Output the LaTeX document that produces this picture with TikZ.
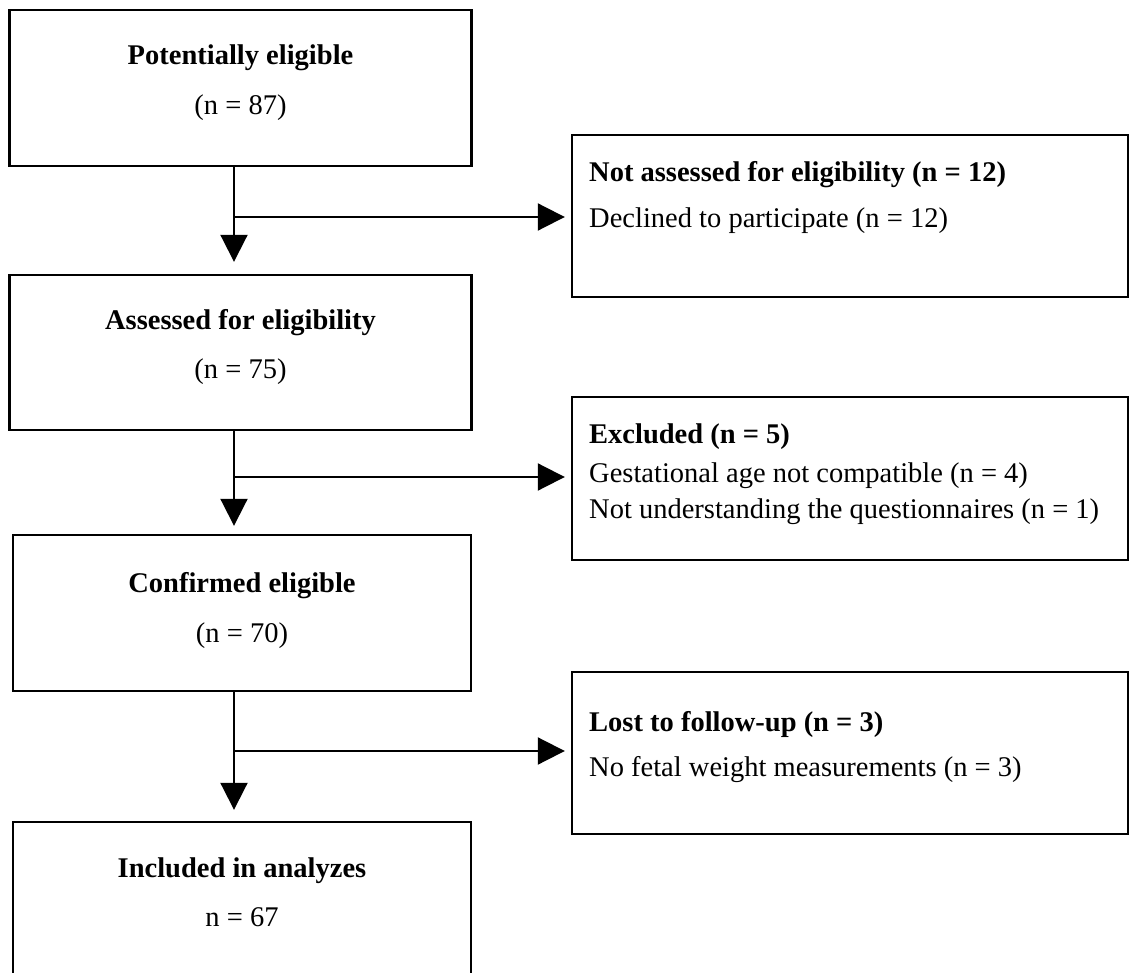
\documentclass[tikz,border=0pt]{standalone}
\usepackage{fontspec}
\setmainfont{Liberation Serif}
\usetikzlibrary{arrows.meta}
\tikzset{
  box/.style={draw=black, line width=2.4pt, fill=none, inner sep=0pt},
  txt/.style={inner sep=0pt, font=\fontsize{28.5}{34}\selectfont, text=black},
  btxt/.style={txt, font=\fontsize{28.5}{34}\selectfont\bfseries},
  arr/.style={draw=black, line width=2pt, -{Triangle[length=27pt,width=27pt]}},
  plain/.style={draw=black, line width=2pt}
}
\begin{document}
\begin{tikzpicture}[x=1pt,y=-1pt]
\useasboundingbox (0,0) rectangle (1129,973);
\fill[white] (0,0) rectangle (1129,973);
\clip (0,0) rectangle (1129,973);

% left column boxes
\node[box, minimum width=462pt, minimum height=156pt] (b1) at (240.5,88) {};
\node[box, minimum width=462pt, minimum height=155pt] (b2) at (240.5,352.5) {};
\node[box, minimum width=458pt, minimum height=156pt] (b3) at (242,613) {};
\node[box, minimum width=458pt, minimum height=156pt] (b4) at (242,900) {};

% right column boxes
\node[box, minimum width=556pt, minimum height=162pt] (r1) at (850,216) {};
\node[box, minimum width=556pt, minimum height=163pt] (r2) at (850,478.5) {};
\node[box, minimum width=556pt, minimum height=162pt] (r3) at (850,753) {};

% left texts
\node[btxt, anchor=base] (t1a) at (240.5,65) {Potentially eligible};
\node[txt,  anchor=base] (t1b) at (240.5,115) {(n = 87)};
\node[btxt, anchor=base] (t2a) at (240.5,330) {Assessed for eligibility};
\node[txt,  anchor=base] (t2b) at (240.5,378) {(n = 75)};
\node[btxt, anchor=base] (t3a) at (242,592) {Confirmed eligible};
\node[txt,  anchor=base] (t3b) at (242,642) {(n = 70)};
\node[btxt, anchor=base] (t4a) at (242,877) {Included in analyzes};
\node[txt,  anchor=base] (t4b) at (242,926) {n = 67};

% right texts
\node[btxt, anchor=base west] (s1a) at (589,182) {Not assessed for eligibility (n = 12)};
\node[txt,  anchor=base west] (s1b) at (589,228) {Declined to participate (n = 12)};
\node[btxt, anchor=base west] (s2a) at (589,443) {Excluded (n = 5)};
\node[txt,  anchor=base west] (s2b) at (589,482) {Gestational age not compatible (n = 4)};
\node[txt,  anchor=base west] (s2c) at (589,518) {Not understanding the questionnaires (n = 1)};
\node[btxt, anchor=base west] (s3a) at (589,731) {Lost to follow-up (n = 3)};
\node[txt,  anchor=base west] (s3b) at (589,776) {No fetal weight measurements (n = 3)};

% junctions
\coordinate (j1) at (234,217);
\coordinate (j2) at (234,477);
\coordinate (j3) at (234,751);

% vertical arrows
\draw[arr] (b1.south -| j1) -- ([yshift=12pt]b2.north -| j1);
\draw[arr] (b2.south -| j2) -- ([yshift=8pt]b3.north -| j2);
\draw[arr] (b3.south -| j3) -- ([yshift=11pt]b4.north -| j3);

% horizontal arrows
\draw[arr] (j1) -- ([xshift=-6pt]r1.west |- j1);
\draw[arr] (j2) -- ([xshift=-6pt]r2.west |- j2);
\draw[arr] (j3) -- ([xshift=-6pt]r3.west |- j3);
\end{tikzpicture}
\end{document}
